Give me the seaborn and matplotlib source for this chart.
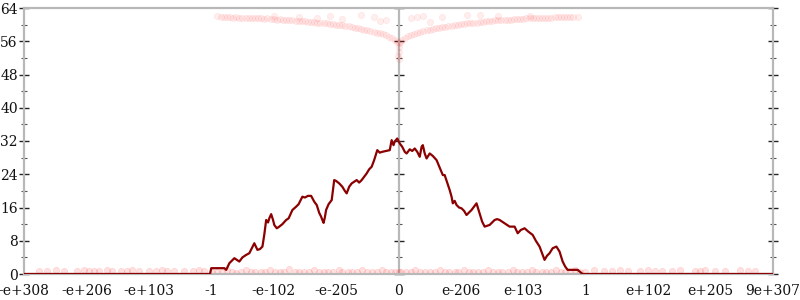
import matplotlib
matplotlib.use("Agg")
import matplotlib.pyplot as plt
from matplotlib.ticker import MultipleLocator, FixedLocator, NullFormatter
import seaborn as sns
import pandas as pd

# ---------------- data ----------------
tick_pos = [-6, -5, -4, -3, -2, -1, 0, 1, 2, 3, 4, 5, 6]
tick_labels = ["-e+308", "-e+206", "-e+103", "-1", "-e-102", "-e-205", "0",
               "e-206", "e-103", "1", "e+102", "e+205", "9e+307"]

line_x = [-6.0, -3.02, -3.0, -2.79, -2.76, -2.71, -2.67, -2.63, -2.59, -2.55, -2.5, -2.44,
          -2.39, -2.35, -2.31, -2.26, -2.22, -2.18, -2.15, -2.12, -2.09, -2.07, -2.04,
          -2.01, -1.99, -1.95, -1.91, -1.86, -1.8, -1.76, -1.7, -1.64, -1.6, -1.54,
          -1.5, -1.45, -1.4, -1.35, -1.31, -1.27, -1.24, -1.22, -1.2, -1.18, -1.16,
          -1.12, -1.07, -1.03, -1.0, -0.95, -0.9, -0.86, -0.83, -0.79, -0.75, -0.71,
          -0.67, -0.63, -0.59, -0.55, -0.51, -0.47, -0.43, -0.39, -0.34, -0.3, -0.26,
          -0.2, -0.14, -0.11, -0.08, -0.06, -0.02, 0.02, 0.06, 0.1, 0.13, 0.18, 0.22,
          0.26, 0.3, 0.34, 0.37, 0.39, 0.42, 0.45, 0.5, 0.55, 0.61, 0.66, 0.71, 0.74,
          0.78, 0.82, 0.85, 0.87, 0.9, 0.93, 0.97, 1.01, 1.05, 1.09, 1.13, 1.17, 1.21,
          1.25, 1.3, 1.34, 1.38, 1.42, 1.46, 1.5, 1.54, 1.58, 1.62, 1.66, 1.7, 1.74,
          1.78, 1.82, 1.86, 1.91, 1.96, 2.02, 2.08, 2.15, 2.2, 2.26, 2.3, 2.34, 2.38,
          2.42, 2.47, 2.53, 2.58, 2.63, 2.67, 2.71, 2.87, 2.95, 6.0]
line_y = [0.0, 0.0, 1.4, 1.4, 1.0, 2.6, 3.2, 3.8, 3.4, 3.0, 4.0, 4.6,
          5.0, 6.2, 7.4, 5.8, 6.0, 6.6, 9.5, 13.0, 12.4, 13.4, 14.4,
          13.0, 11.8, 11.0, 11.4, 12.0, 13.0, 13.4, 15.4, 16.2, 16.8, 18.6,
          18.4, 18.8, 18.8, 17.4, 16.6, 14.7, 13.8, 13.0, 12.3, 13.6, 15.4,
          16.8, 17.8, 22.6, 22.4, 21.8, 21.0, 20.0, 19.4, 21.0, 21.8, 22.2,
          22.6, 22.0, 22.6, 23.4, 24.2, 25.2, 25.8, 27.4, 29.8, 29.2, 29.4,
          29.6, 29.8, 32.2, 31.0, 31.9, 32.6, 31.4, 30.6, 29.4, 29.0, 30.0, 29.6,
          30.2, 29.4, 28.2, 30.6, 31.0, 29.0, 27.8, 29.0, 28.4, 27.4, 25.6, 23.8, 23.8,
          22.0, 20.2, 18.6, 17.0, 17.6, 16.6, 16.0, 15.8, 15.2, 14.2, 14.8, 15.4, 16.2,
          17.0, 14.6, 12.6, 11.4, 11.6, 11.8, 12.4, 13.0, 13.2, 13.0, 12.6, 12.2, 11.8,
          11.4, 11.4, 11.4, 9.8, 10.6, 11.0, 10.2, 9.4, 8.0, 6.6, 5.0, 3.4, 4.4,
          5.0, 6.2, 6.6, 5.4, 3.0, 1.8, 1.0, 1.0, 0.0, 0.0]

top_x = [-2.9, -2.85, -2.8, -2.75, -2.7, -2.65, -2.6, -2.55, -2.5, -2.45, -2.4, -2.35,
         -2.3, -2.25, -2.2, -2.15, -2.1, -2.05, -2.0, -1.95, -1.9, -1.85, -1.8, -1.75,
         -1.7, -1.65, -1.6, -1.55, -1.5, -1.45, -1.4, -1.35, -1.3, -1.25, -1.2, -1.15,
         -1.1, -1.05, -1.0, -0.95, -0.9, -0.85, -0.8, -0.75, -0.7, -0.65, -0.6, -0.55,
         -0.5, -0.45, -0.4, -0.35, -0.3, -0.25, -0.2, -0.15, -0.1, -0.05, -0.02, 0.0,
         0.02, 0.05, 0.1, 0.15, 0.2, 0.25, 0.3, 0.35, 0.4, 0.45, 0.5, 0.55, 0.6,
         0.65, 0.7, 0.75, 0.8, 0.85, 0.9, 0.95, 1.0, 1.05, 1.1, 1.15, 1.2, 1.25,
         1.3, 1.35, 1.4, 1.45, 1.5, 1.55, 1.6, 1.65, 1.7, 1.75, 1.8, 1.85, 1.9,
         1.95, 2.0, 2.05, 2.1, 2.15, 2.2, 2.25, 2.3, 2.35, 2.4, 2.45, 2.5, 2.55,
         2.6, 2.65, 2.7, 2.75, 2.8, 2.87,
         0.0, 0.0, -0.01, 0.01, -0.6, -0.4, -0.2, 0.2, 0.4, 0.7, 1.1, -1.1, -1.6,
         1.6, -0.9, 0.5, -2.0, 2.1, -0.3, 0.3, -1.3, 1.3]
top_y = [62.0, 61.9, 61.8, 61.9, 61.8, 61.7, 61.8, 61.7, 61.6, 61.7, 61.6, 61.5,
         61.6, 61.5, 61.5, 61.4, 61.5, 61.3, 61.3, 61.2, 61.3, 61.1, 61.1, 61.0,
         61.0, 60.9, 60.9, 60.8, 60.8, 60.7, 60.7, 60.6, 60.5, 60.5, 60.4, 60.3,
         60.2, 60.1, 60.0, 59.9, 59.8, 59.7, 59.6, 59.4, 59.3, 59.1, 58.9, 58.8,
         58.6, 58.4, 58.3, 58.1, 57.9, 57.7, 57.4, 57.1, 56.7, 56.2, 55.8, 55.5,
         55.8, 56.3, 56.8, 57.2, 57.5, 57.8, 58.0, 58.2, 58.4, 58.6, 58.8, 58.9, 59.1,
         59.2, 59.4, 59.5, 59.6, 59.7, 59.9, 60.0, 60.1, 60.2, 60.3, 60.4, 60.5, 60.5,
         60.6, 60.7, 60.8, 60.8, 60.9, 61.0, 61.0, 61.1, 61.1, 61.2, 61.2, 61.3, 61.3,
         61.4, 61.4, 61.5, 61.5, 61.5, 61.6, 61.6, 61.6, 61.7, 61.7, 61.7, 61.8, 61.8,
         61.8, 61.8, 61.9, 61.9, 61.8, 61.8,
         54.5, 53.5, 52.5, 51.8, 62.2, 61.8, 61.2, 61.5, 62.0, 61.8, 62.2, 62.1, 61.9,
         62.1, 61.4, 60.6, 62.0, 62.0, 60.8, 61.9, 61.7, 62.3]

bot_x = [-5.76, -5.63, -5.49, -5.36, -5.15, -5.04, -4.96, -4.88, -4.8, -4.67, -4.59,
         -4.44, -4.35, -4.27, -4.16, -3.99, -3.88, -3.79, -3.71, -3.59, -3.43, -3.3,
         -3.19, -3.11,
         -2.98, -2.9, -2.83, -2.75, -2.66, -2.6, -2.52, -2.45, -2.37, -2.3, -2.21, -2.14,
         -2.06, -1.98, -1.9, -1.83, -1.75, -1.66, -1.6, -1.51, -1.44, -1.36, -1.28, -1.2,
         -1.13, -1.05, -0.96, -0.9, -0.81, -0.74, -0.66, -0.58, -0.5, -0.43, -0.35, -0.27,
         -0.2, -0.12, -0.05, 0.0, 0.04, 0.12, 0.2, 0.27, 0.35, 0.43, 0.5, 0.58, 0.66,
         0.74, 0.81, 0.9, 0.96, 1.05, 1.13, 1.2, 1.28, 1.36, 1.44, 1.51, 1.6, 1.66, 1.75,
         1.83, 1.9, 1.98, 2.06, 2.14, 2.21, 2.3, 2.37, 2.45, 2.52, 2.6, 2.66, 2.75, 2.83,
         2.9, 2.98,
         3.14, 3.3, 3.42, 3.55, 3.67, 3.87, 3.99, 4.11, 4.22, 4.38, 4.51, 4.75, 4.83,
         4.91, 5.07, 5.23, 5.47, 5.6, 5.71]
bot_y = [0.8, 0.7, 0.9, 0.7, 0.8, 0.9, 0.7, 0.8, 0.7, 0.9, 0.8,
         0.7, 0.8, 0.9, 0.7, 0.8, 0.7, 0.9, 0.8, 0.7, 0.8, 0.7,
         0.9, 0.8,
         0.5, 0.6, 0.4, 0.9, 0.5, 0.3, 0.6, 1.0, 0.5, 0.4, 0.6, 0.5,
         0.9, 0.4, 0.5, 0.6, 1.1, 0.4, 0.5, 0.6, 0.4, 0.9, 0.5, 0.5,
         0.4, 0.6, 1.0, 0.5, 0.4, 0.6, 0.5, 0.9, 0.4, 0.5, 0.6, 1.0,
         0.4, 0.5, 0.6, 0.5, 0.4, 0.6, 0.5, 1.0, 0.4, 0.5, 0.6, 0.4, 0.9,
         0.5, 0.6, 0.4, 0.5, 1.0, 0.6, 0.4, 0.5, 0.6, 0.9, 0.4, 0.5, 0.6, 0.5,
         1.0, 0.4, 0.6, 0.5, 0.9, 0.5, 0.4, 0.6, 0.5, 1.0, 0.4, 0.6, 0.5, 0.9,
         0.5, 0.6,
         0.9, 0.8, 0.7, 0.9, 0.8, 0.7, 0.9, 0.8, 0.7, 0.8, 0.9, 0.7, 0.8,
         0.9, 0.7, 0.8, 0.9, 0.7, 0.8]

# ---------------- style ----------------
sns.set_style("white")
plt.rcParams["font.family"] = ["DejaVu Serif"]

fig = plt.figure(figsize=(8, 3), dpi=100)
ax = fig.add_axes([24 / 800, 26 / 300, (773 - 24) / 800, (274 - 8) / 300])

axis_gray = "#b8b8b8"
tick_dark = "#222222"

# center vertical axis line
ax.axvline(0, color=axis_gray, lw=1.6, zorder=1)

top_df = pd.DataFrame({"x": top_x, "y": top_y})
sns.scatterplot(data=top_df, x="x", y="y", ax=ax, s=20, color="#ff3030",
                edgecolor="#ff3030", linewidth=0.6, alpha=0.08, zorder=2, legend=False)
bot_df = pd.DataFrame({"x": bot_x, "y": bot_y})
sns.scatterplot(data=bot_df, x="x", y="y", ax=ax, s=20, color="#ff3030",
                edgecolor="#ff3030", linewidth=0.6, alpha=0.14, zorder=2, legend=False)

ln = pd.DataFrame({"x": line_x, "y": line_y})
sns.lineplot(data=ln, x="x", y="y", ax=ax, color="#8b0000", lw=1.6,
             sort=False, estimator=None, zorder=3)

ax.set_xlim(-6, 6)
ax.set_ylim(0, 64)
ax.set_xlabel("")
ax.set_ylabel("")

ax.xaxis.set_major_locator(FixedLocator(tick_pos))
ax.set_xticklabels(tick_labels)
ax.yaxis.set_major_locator(MultipleLocator(8))
ax.yaxis.set_minor_locator(MultipleLocator(4))

for side in ["left", "right", "top", "bottom"]:
    ax.spines[side].set_visible(True)
    ax.spines[side].set_color(axis_gray)
    ax.spines[side].set_linewidth(1.6)

ax.tick_params(axis="x", which="major", direction="inout", length=7, width=1,
               color=tick_dark, labelsize=10, pad=4, labelcolor="#111111")
ax.tick_params(axis="y", which="major", direction="inout", length=7, width=1,
               color=tick_dark, labelsize=10, pad=1, right=True, left=True,
               labelright=False, labelcolor="#111111")
ax.tick_params(axis="y", which="minor", direction="inout", length=4, width=0.8,
               color="#555555", right=True, left=True)

# center axis ticks (no labels)
sec = ax.secondary_yaxis(0.5)
sec.yaxis.set_major_locator(MultipleLocator(8))
sec.yaxis.set_minor_locator(MultipleLocator(4))
sec.yaxis.set_major_formatter(NullFormatter())
sec.yaxis.set_minor_formatter(NullFormatter())
for side in sec.spines:
    sec.spines[side].set_visible(False)
sec.tick_params(axis="y", which="major", direction="inout", length=7, width=1,
                color=tick_dark, labelleft=False, labelright=False)
sec.tick_params(axis="y", which="minor", direction="inout", length=4, width=0.8,
                color="#555555", labelleft=False, labelright=False)

fig.savefig("out.png", dpi=100)
